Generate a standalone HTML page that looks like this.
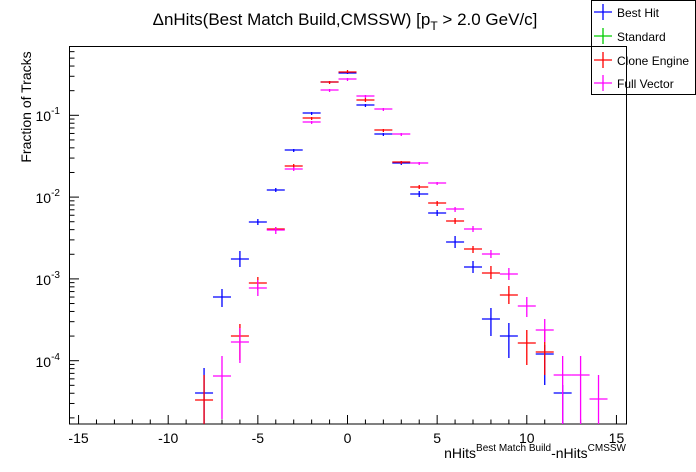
<!DOCTYPE html>
<html><head><meta charset="utf-8"><style>
body{margin:0;background:#fff;}
svg{display:block;font-family:"Liberation Sans",sans-serif;}
</style></head><body>
<svg id="s" width="696" height="472" xmlns="http://www.w3.org/2000/svg">
<rect width="696" height="472" fill="#fff"/>
<rect x="591.5" y="0.5" width="104" height="94" fill="#fff" stroke="#000"/>
<g id="g"></g>
<text x="345" y="25" font-size="17" text-anchor="middle">ΔnHits(Best Match Build,CMSSW) [p<tspan font-size="12" dy="5">T</tspan><tspan dy="-5"> &gt; 2.0 GeV/c]</tspan></text>
<text transform="translate(36,107) rotate(-90)" font-size="14" text-anchor="middle">Fraction of Tracks</text>
<text x="626" y="458" font-size="14" text-anchor="end">nHits<tspan font-size="10" dy="-7">Best Match Build</tspan><tspan dy="7">-nHits</tspan><tspan font-size="10" dy="-7">CMSSW</tspan></text>
</svg>
<script>
const g=document.getElementById('g');let h='';
const X=v=>347.5+17.93*v, Y=lv=>115.3-81.8*(lv+1);
const L=(x1,y1,x2,y2,c,w)=>h+=`<line x1="${x1}" y1="${y1}" x2="${x2}" y2="${y2}" stroke="${c}" stroke-width="${w||1}"/>`;
const T=(x,y,t,a,s)=>h+=`<text x="${x}" y="${y}" font-size="${s||14}" text-anchor="${a||'middle'}">${t}</text>`;
h+='<rect x="69.5" y="46.5" width="557" height="377.5" fill="none" stroke="#000"/>';
for(let v=-15;v<=15;v++){const x=X(v);L(x,424,x,424-(v%5==0?9:4.5),'#000');if(v%5==0)T(x,443,v);}
for(let d=-5;d<0;d++)for(let k=1;k<10;k++){const y=Y(d+Math.log10(k));if(y<47||y>424)continue;L(70,y,70+(k==1?9:4.5),y,'#000');}
[[-1,115],[-2,197],[-3,279],[-4,361]].forEach(([e,y])=>{h+=`<text x="60" y="${y+6}" font-size="14" text-anchor="end">10<tspan font-size="10" dy="-7">${e}</tspan></text>`});
const S=[
['#0000ff',[[-8,393,368,424],[-7,297,289,307],[-6,259,251,267],[-5,222,219,225],[-4,190,188,192],[-3,150,149,152],[-2,113,112,115],[-1,82,81,83],[0,73,72,74],[1,105,104,107],[2,134,133,136],[3,163,161,165],[4,194,191,197],[5,213,210,216],[6,242,236,248],[7,267,261,273],[8,319,308,336],[9,336,323,358],[11,354,345,385],[12,393,385,424]]],
['#ff0000',[[-8,400,375,424],[-6,336,324,360],[-5,283,277,290],[-4,229,227,231],[-3,166,164,168],[-2,118,117,120],[-1,82,81,84],[0,72,70,73],[1,100,98,102],[2,130,129,132],[3,162,161,164],[4,187,185,189],[5,203,201,206],[6,221,218,224],[7,249,246,253],[8,273,266,279],[9,295,286,304],[10,343,330,365],[11,352,330,375]]],
['#ff00ff',[[-7,376,356,419],[-6,342,328,363],[-5,288,280,296],[-4,230,227,234],[-3,169,167,171],[-2,122,121,124],[-1,90,89,92],[0,79,78,81],[1,96,95,98],[2,109,108,111],[3,134,133,136],[4,163,162,165],[5,183,182,185],[6,209,207,212],[7,229,226,232],[8,254,250,258],[9,274,268,280],[10,306,297,317],[11,330,319,342],[12,375,356,424],[13,375,356,424],[14,399,375,424]]]];
S.forEach(([c,pts])=>pts.forEach(([v,y,a,b])=>{const x=X(v);L(x-9,y,x+9,y,c,1.3);L(x,a,x,b,c,1.3);}));
[['#0000ff','Best Hit',12],['#00cc00','Standard',36],['#ff0000','Clone Engine',60],['#ff00ff','Full Vector',83]].forEach(([c,t,y])=>{L(594,y,612,y,c,1.3);L(603,y-8,603,y+8,c,1.3);T(617,y+5,t,'start',12);});
g.innerHTML=h;
document.querySelector('text[transform]').setAttribute('transform','translate(31,107) rotate(-90)');
</script>
</body></html>
